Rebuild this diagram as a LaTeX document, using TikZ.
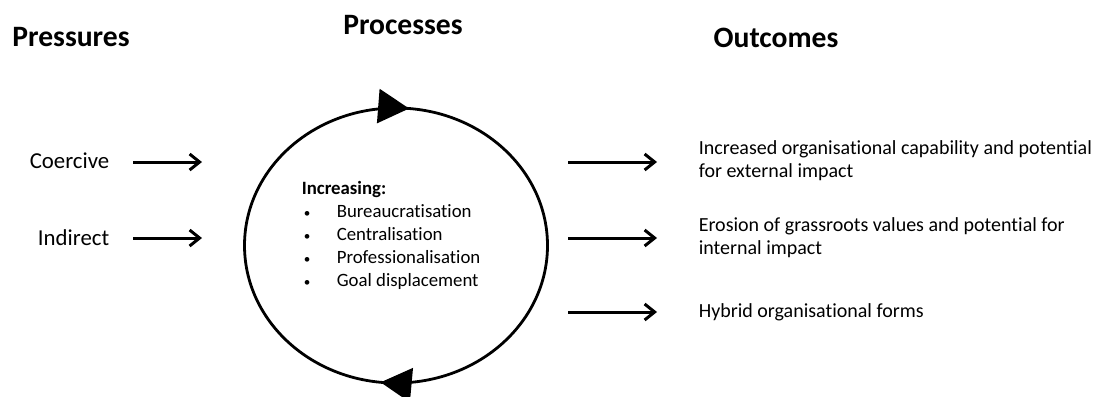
\documentclass[tikz,border=0pt]{standalone}
\usepackage{fontspec}
\setmainfont{Carlito}[Ligatures=NoCommon]
\usetikzlibrary{arrows.meta,positioning,decorations.markings}

\newcommand{\itembullet}{\makebox[17.5pt][l]{\kern1pt\scalebox{0.7}{\textbullet}}}

\begin{document}
\begin{tikzpicture}[x=0.5pt, y=-0.5pt, thick, >={Straight Barb[length=5pt,width=8pt]},
  every text node part/.style={align=left},
  title/.style={font=\fontsize{14.8}{17}\selectfont\bfseries},
  pressure/.style={anchor=east, inner sep=0pt, font=\fontsize{11.4}{13}\selectfont},
  outcome/.style={anchor=west, inner sep=0pt, font=\fontsize{10}{11.5}\selectfont},
  flow/.style={->, line width=1.5pt}]
\useasboundingbox (0,0) rectangle (1097,396);
\draw
  node at (71,37)(ttlpress)[title]{Pressures}
  node at (403,25)(ttlproc)[title]{Processes}
  node at (776,38)(ttlout)[title]{Outcomes}
  node at (110,161)(coercive)[pressure]{Coercive}
  node at (110,238)(indirect)[pressure]{Indirect}
  node at (301,235)(incr)[anchor=west, inner sep=0pt, font=\fontsize{9.4}{11.5}\selectfont]{\textbf{Increasing:}\\
    \itembullet Bureaucratisation\\
    \itembullet Centralisation\\
    \itembullet Professionalisation\\
    \itembullet Goal displacement}
  node at (698,161)(capab)[outcome]{Increased organisational capability and potential\\ for external impact}
  node at (698,238)(erosion)[outcome]{Erosion of grassroots values and potential for\\ internal impact}
  node at (698,312)(hybrid)[outcome]{Hybrid organisational forms};
% pressure and outcome arrow ends
\coordinate (coer1) at (133,162);  \coordinate (coer2) at (202,162);
\coordinate (ind1) at (133,238);   \coordinate (ind2) at (202,238);
\coordinate (out1a) at (568,162);  \coordinate (out1b) at (657,162);
\coordinate (out2a) at (568,238);  \coordinate (out2b) at (657,238);
\coordinate (out3a) at (568,312);  \coordinate (out3b) at (657,312);
\draw[flow] (coer1) -- (coer2);
\draw[flow] (ind1) -- (ind2);
\draw[flow] (out1a) -- (out1b);
\draw[flow] (out2a) -- (out2b);
\draw[flow] (out3a) -- (out3b);
% the cycle
\draw[line width=1.4pt, postaction={decorate}, decoration={markings,
    mark=at position 0.2355 with {\arrowreversed{Triangle[length=15.5pt,width=17pt]}},
    mark=at position 0.733 with {\arrowreversed{Triangle[length=15.5pt,width=17pt]}}}]
  (396,245.5) ellipse [x radius=75.75pt, y radius=68.75pt];
\end{tikzpicture}
\end{document}
